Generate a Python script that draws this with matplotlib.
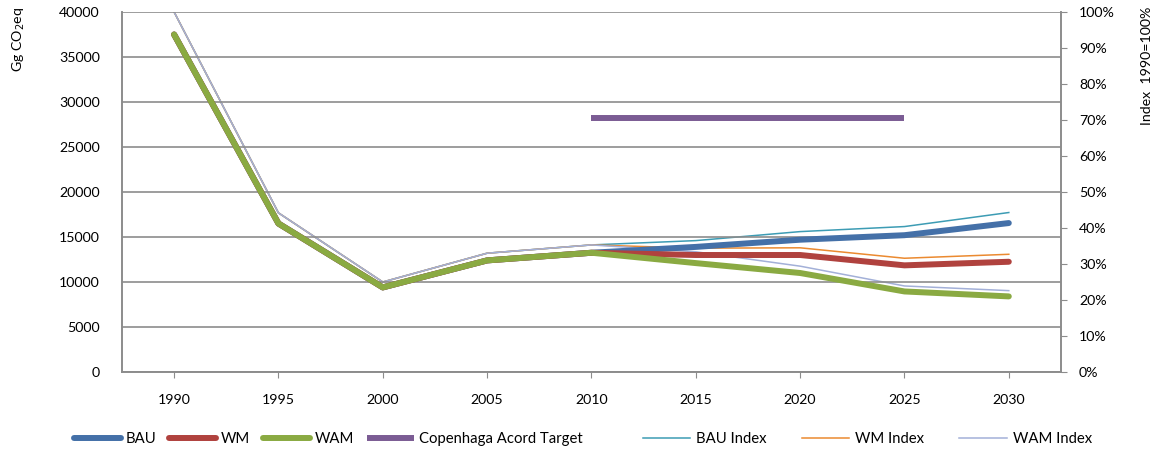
import matplotlib
matplotlib.use('Agg')
import matplotlib.pyplot as plt
import numpy as np

plt.rcParams['font.family'] = ['Lato', 'DejaVu Sans']
plt.rcParams['font.size'] = 10.2

# Data
years = ['1990', '1995', '2000', '2005', '2010', '2015', '2020', '2025', '2030']
bau = [37500, 16500, 9400, 12400, 13250, 13900, 14700, 15200, 16550]
wm = [37500, 16500, 9400, 12400, 13250, 13000, 13000, 11850, 12250]
wam = [37500, 16500, 9400, 12400, 13250, 12100, 11000, 8950, 8400]
target_years = ['2010', '2015', '2020', '2025']
target = [28200, 28200, 28200, 28200]
bau_idx = [100, 44.2, 25.0, 33.0, 35.3, 36.5, 39.0, 40.4, 44.3]
wm_idx = [100, 44.2, 25.0, 33.0, 35.3, 34.4, 34.5, 31.6, 32.7]
wam_idx = [100, 44.2, 25.0, 33.0, 35.3, 33.4, 29.4, 23.9, 22.6]

C_BAU = '#4470A8'
C_WM = '#B0423E'
C_WAM = '#8AAA42'
C_TGT = '#7B5C94'
C_BAU_I = '#3D9CB4'
C_WM_I = '#EB8A30'
C_WAM_I = '#A3B0D8'
GRID = '#8c8c8c'

fig = plt.figure(figsize=(11.57, 4.53), dpi=100)
ax = fig.add_axes([0.1054, 0.1788, 0.917 - 0.1054, 0.9735 - 0.1788])
ax2 = ax.twinx()

x = np.arange(len(years))
xt = np.array([years.index(y) for y in target_years])

lw_thick = 4.3
lw_thin = 1.1

# index lines (right axis)
l5, = ax2.plot(x, bau_idx, color=C_BAU_I, lw=lw_thin, label='BAU Index')
l6, = ax2.plot(x, wm_idx, color=C_WM_I, lw=lw_thin, label='WM Index')
l7, = ax2.plot(x, wam_idx, color=C_WAM_I, lw=lw_thin, label='WAM Index')

# emission lines (left axis), drawn above the index lines
ax.set_zorder(ax2.get_zorder() + 1)
ax.patch.set_visible(False)
l1, = ax.plot(x, bau, color=C_BAU, lw=lw_thick, solid_capstyle='round', label='BAU')
l2, = ax.plot(x, wm, color=C_WM, lw=lw_thick, solid_capstyle='round', label='WM')
l3, = ax.plot(x, wam, color=C_WAM, lw=lw_thick, solid_capstyle='round', label='WAM')
l4, = ax.plot(xt, target, color=C_TGT, lw=lw_thick, solid_capstyle='butt',
              label='Copenhaga Acord Target')

ax.set_xlim(-0.5, len(years) - 0.5)
ax.set_ylim(0, 40000)
ax.set_yticks(np.arange(0, 40001, 5000))
ax.set_xticks(x)
ax.set_xticklabels(years)
ax.grid(axis='y', color=GRID, lw=1.2)
ax.set_axisbelow(True)
ax.tick_params(axis='y', length=0, pad=16)
ax.tick_params(axis='x', length=4, color=GRID, pad=12)

ax2.set_ylim(0, 100)
ax2.set_yticks(np.arange(0, 101, 10))
ax2.set_yticklabels([f'{v}%' for v in range(0, 101, 10)])
ax2.tick_params(axis='y', length=4, color=GRID, pad=9)

for a in (ax, ax2):
    a.spines['top'].set_visible(False)
    for s in ('left', 'right', 'bottom'):
        a.spines[s].set_color(GRID)
        a.spines[s].set_linewidth(1.2)

fig.text(0.016, 0.985, 'Gg CO$_2$eq', rotation=90, va='top', ha='center')
fig.text(0.991, 0.985, 'Index  1990=100%', rotation=90, va='top', ha='center')

fig.legend(handles=[l1, l2, l3, l4], loc='center left', bbox_to_anchor=(0.052, 0.03),
           ncol=4, frameon=False, handlelength=3.2, handletextpad=0.3,
           columnspacing=0.85, fontsize=10.7)
fig.legend(handles=[l5, l6, l7], loc='center left', bbox_to_anchor=(0.544, 0.03),
           ncol=3, frameon=False, handlelength=3.2, handletextpad=0.4,
           columnspacing=2.35, fontsize=10.7)

fig.savefig('out.png', dpi=100)
